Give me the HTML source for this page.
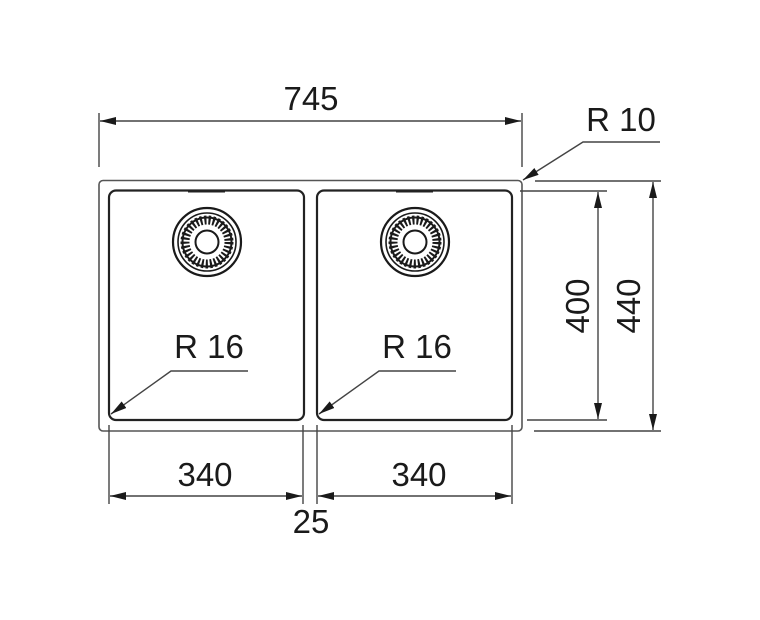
<!DOCTYPE html>
<html><head><meta charset="utf-8"><style>
html,body{margin:0;padding:0;background:#fff;}
svg{display:block;}
text{font-family:"Liberation Sans",Arial,sans-serif;fill:#1a1a1a;font-size:33px;}
</style></head><body>
<svg width="760" height="620" viewBox="0 0 760 620" xmlns="http://www.w3.org/2000/svg">
<defs>
<marker id="a" viewBox="0 0 16 8" refX="16" refY="4" markerWidth="16" markerHeight="8" markerUnits="userSpaceOnUse" orient="auto-start-reverse">
<path d="M0,0 L16,4 L0,8 Z" fill="#1a1a1a"/>
</marker>
</defs>
<g fill="none" stroke="#444" stroke-width="1.4">
<rect x="99" y="180.5" width="423" height="250.5" rx="4" stroke="#555" stroke-width="1.6"/>
<rect x="109" y="190.5" width="195" height="229.5" rx="7" stroke="#222" stroke-width="2.2"/>
<rect x="317" y="190.5" width="195" height="229.5" rx="7" stroke="#222" stroke-width="2.2"/>
<line x1="188" y1="191" x2="225" y2="191" stroke="#222" stroke-width="3"/>
<line x1="396" y1="191" x2="433" y2="191" stroke="#222" stroke-width="3"/>
<line x1="99" y1="113" x2="99" y2="167"/>
<line x1="522" y1="113" x2="522" y2="167"/>
<line x1="100" y1="121" x2="521" y2="121" marker-start="url(#a)" marker-end="url(#a)"/>
<polyline points="660,142 583,142 523,180" marker-end="url(#a)"/>
<line x1="520" y1="191" x2="607" y2="191"/>
<line x1="527" y1="420" x2="607" y2="420"/>
<line x1="598" y1="192" x2="598" y2="419" marker-start="url(#a)" marker-end="url(#a)"/>
<line x1="535" y1="181" x2="661" y2="181"/>
<line x1="534" y1="431" x2="661" y2="431"/>
<line x1="653" y1="182" x2="653" y2="430" marker-start="url(#a)" marker-end="url(#a)"/>
<line x1="109" y1="425" x2="109" y2="504"/>
<line x1="303" y1="425" x2="303" y2="504"/>
<line x1="317" y1="425" x2="317" y2="504"/>
<line x1="512" y1="425" x2="512" y2="504"/>
<line x1="110" y1="496" x2="302" y2="496" marker-start="url(#a)" marker-end="url(#a)"/>
<line x1="318" y1="496" x2="511" y2="496" marker-start="url(#a)" marker-end="url(#a)"/>
<polyline points="248,371 171,371 111,414" marker-end="url(#a)"/>
<polyline points="456,371 379,371 319,414" marker-end="url(#a)"/>
</g>
<g id="d" fill="none" stroke="#1a1a1a">
<circle cx="207" cy="242" r="34" stroke-width="2.2"/>
<circle cx="207" cy="242" r="29" stroke-width="1.6"/>
<circle cx="207" cy="242" r="22" stroke-width="9" stroke-dasharray="2.2 2"/>
<circle cx="207" cy="242" r="24.5" stroke-width="2"/>
<circle cx="207" cy="242" r="11.5" stroke-width="2"/>
</g>
<use href="#d" x="208"/>
<text x="311" y="110" text-anchor="middle">745</text>
<text x="621" y="131" text-anchor="middle">R 10</text>
<text x="209" y="358" text-anchor="middle">R 16</text>
<text x="417" y="358" text-anchor="middle">R 16</text>
<text x="205" y="486" text-anchor="middle">340</text>
<text x="419" y="486" text-anchor="middle">340</text>
<text x="311" y="533" text-anchor="middle">25</text>
<text transform="translate(589,306) rotate(-90)" text-anchor="middle">400</text>
<text transform="translate(640,306) rotate(-90)" text-anchor="middle">440</text>
</svg>
</body></html>
